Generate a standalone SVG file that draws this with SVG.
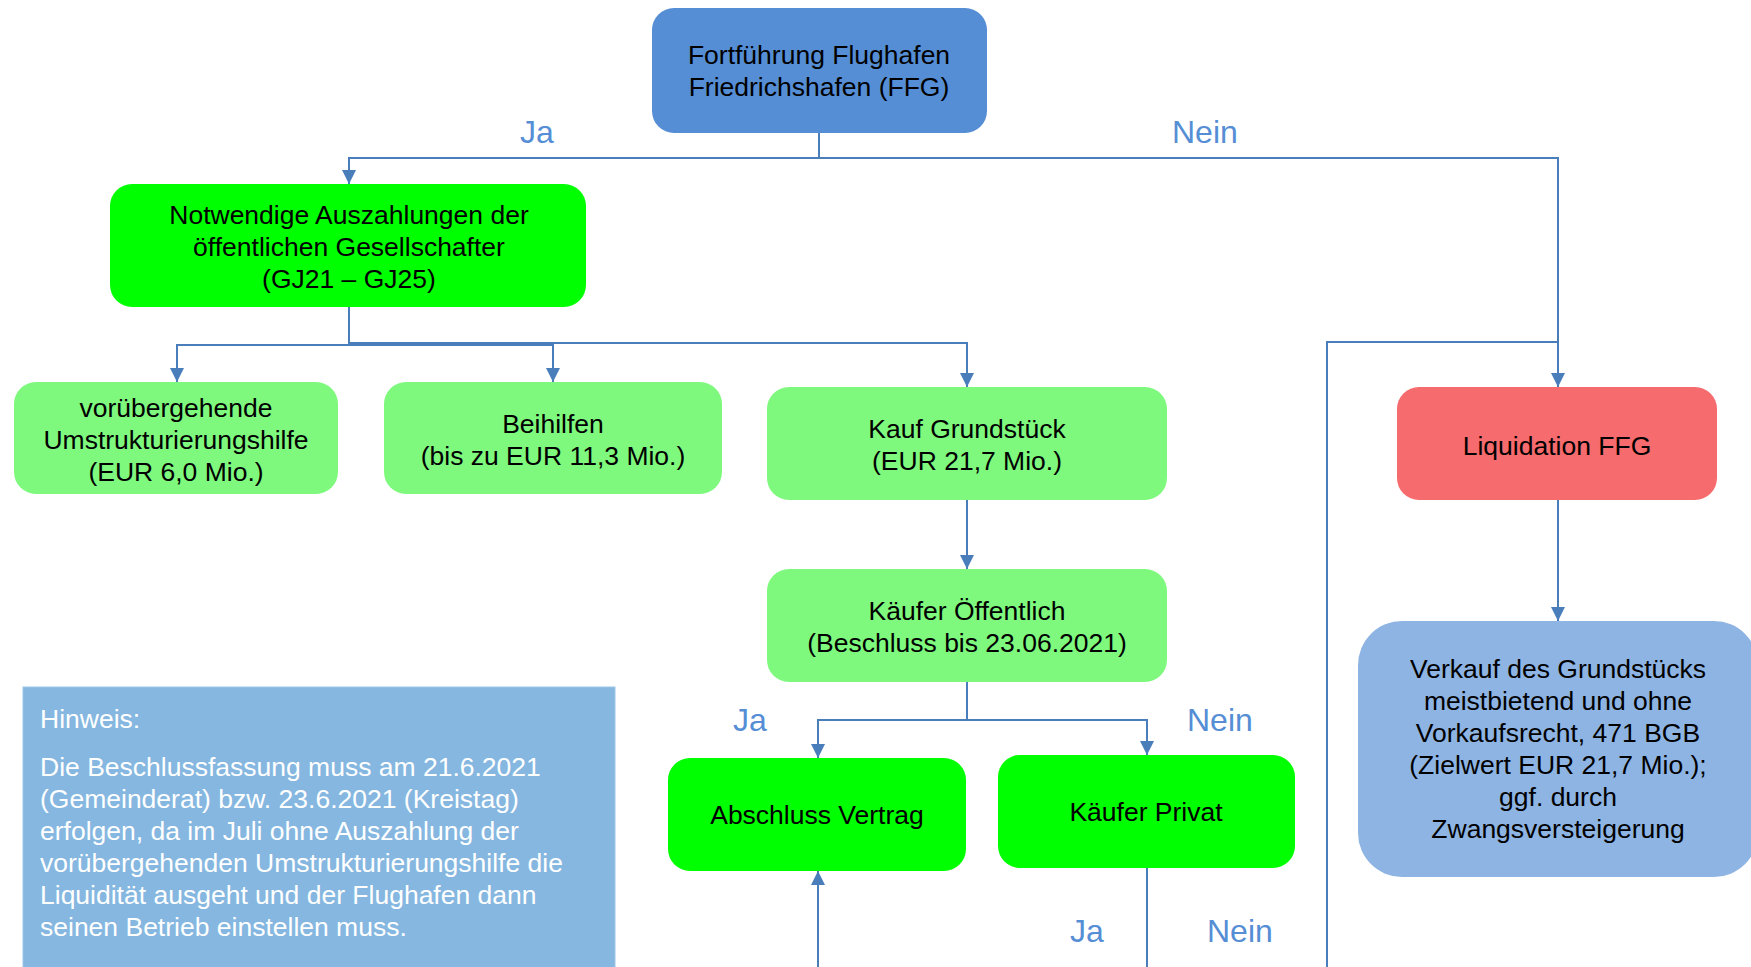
<svg xmlns="http://www.w3.org/2000/svg" width="1751" height="967" viewBox="0 0 1751 967">
<defs>
<marker id="ah" viewBox="0 0 14 14" refX="14" refY="7" markerWidth="14" markerHeight="14" markerUnits="userSpaceOnUse" orient="auto">
<path d="M0,0 L14,7 L0,14 Z" fill="#4A7EBB"/>
</marker>
<style>
.t{font-family:"Liberation Sans",Arial,sans-serif;font-size:26.5px;fill:#000;text-anchor:middle}
.w{font-family:"Liberation Sans",Arial,sans-serif;font-size:26.5px;fill:#fff}
.lb{font-family:"Liberation Sans",Arial,sans-serif;font-size:32px;fill:#558ED5}
.c{fill:none;stroke:#4A7EBB;stroke-width:2}
.g1{fill:#00FF00}
.g2{fill:#7EF97E}
</style>
</defs>
<rect width="1751" height="967" fill="#fff"/>
<g id="connectors">
<path class="c" d="M819,133 V158 H349 V184" marker-end="url(#ah)"/>
<path class="c" d="M819,158 H1558 V387" marker-end="url(#ah)"/>
<path class="c" d="M1327,967 V342 H1558"/>
<path class="c" d="M349,307 V345 H177 V382" marker-end="url(#ah)"/>
<path class="c" d="M349,345 H553 V382" marker-end="url(#ah)"/>
<path class="c" d="M349,343 H967 V387" marker-end="url(#ah)"/>
<path class="c" d="M967,500 V569" marker-end="url(#ah)"/>
<path class="c" d="M967,682 V720 H818 V758" marker-end="url(#ah)"/>
<path class="c" d="M967,720 H1147 V755" marker-end="url(#ah)"/>
<path class="c" d="M818,967 V871" marker-end="url(#ah)"/>
<path class="c" d="M1147,868 V967"/>
<path class="c" d="M1558,500 V621" marker-end="url(#ah)"/>
</g>
<g id="labels">
<text class="lb" x="520" y="143">Ja</text>
<text class="lb" x="1172" y="143">Nein</text>
<text class="lb" x="733" y="731">Ja</text>
<text class="lb" x="1187" y="731">Nein</text>
<text class="lb" x="1070" y="942">Ja</text>
<text class="lb" x="1207" y="942">Nein</text>
</g>
<g id="n-top">
<rect x="652" y="8" width="335" height="125" rx="22" fill="#558ED5"/>
<text class="t" x="819" y="64">Fortführung Flughafen</text>
<text class="t" x="819" y="96">Friedrichshafen (FFG)</text>
</g>
<g id="n-auszahlungen">
<rect class="g1" x="110" y="184" width="476" height="123" rx="22"/>
<text class="t" x="349" y="224">Notwendige Auszahlungen der</text>
<text class="t" x="349" y="256">öffentlichen Gesellschafter</text>
<text class="t" x="349" y="288">(GJ21 – GJ25)</text>
</g>
<g id="n-umstrukturierung">
<rect class="g2" x="14" y="382" width="324" height="112" rx="22"/>
<text class="t" x="176" y="417">vorübergehende</text>
<text class="t" x="176" y="449">Umstrukturierungshilfe</text>
<text class="t" x="176" y="481">(EUR 6,0 Mio.)</text>
</g>
<g id="n-beihilfen">
<rect class="g2" x="384" y="382" width="338" height="112" rx="22"/>
<text class="t" x="553" y="433">Beihilfen</text>
<text class="t" x="553" y="465">(bis zu EUR 11,3 Mio.)</text>
</g>
<g id="n-kauf">
<rect class="g2" x="767" y="387" width="400" height="113" rx="22"/>
<text class="t" x="967" y="438">Kauf Grundstück</text>
<text class="t" x="967" y="470">(EUR 21,7 Mio.)</text>
</g>
<g id="n-oeffentlich">
<rect class="g2" x="767" y="569" width="400" height="113" rx="22"/>
<text class="t" x="967" y="620">Käufer Öffentlich</text>
<text class="t" x="967" y="652">(Beschluss bis 23.06.2021)</text>
</g>
<g id="n-vertrag">
<rect class="g1" x="668" y="758" width="298" height="113" rx="22"/>
<text class="t" x="817" y="824">Abschluss Vertrag</text>
</g>
<g id="n-privat">
<rect class="g1" x="998" y="755" width="297" height="113" rx="22"/>
<text class="t" x="1146" y="821">Käufer Privat</text>
</g>
<g id="n-liquidation">
<rect x="1397" y="387" width="320" height="113" rx="22" fill="#F66B6D"/>
<text class="t" x="1557" y="455">Liquidation FFG</text>
</g>
<g id="n-verkauf">
<rect x="1358" y="621" width="400" height="256" rx="44" fill="#8EB4E3"/>
<text class="t" x="1558" y="678">Verkauf des Grundstücks</text>
<text class="t" x="1558" y="710">meistbietend und ohne</text>
<text class="t" x="1558" y="742">Vorkaufsrecht, 471 BGB</text>
<text class="t" x="1558" y="774">(Zielwert EUR 21,7 Mio.);</text>
<text class="t" x="1558" y="806">ggf. durch</text>
<text class="t" x="1558" y="838">Zwangsversteigerung</text>
</g>
<g id="n-hinweis">
<rect x="23" y="687" width="592" height="290" fill="#85B7E0" stroke="#9FC6E8" stroke-width="1"/>
<text class="w" x="40" y="728">Hinweis:</text>
<text class="w" x="40" y="776">Die Beschlussfassung muss am 21.6.2021</text>
<text class="w" x="40" y="808">(Gemeinderat) bzw. 23.6.2021 (Kreistag)</text>
<text class="w" x="40" y="840">erfolgen, da im Juli ohne Auszahlung der</text>
<text class="w" x="40" y="872">vorübergehenden Umstrukturierungshilfe die</text>
<text class="w" x="40" y="904">Liquidität ausgeht und der Flughafen dann</text>
<text class="w" x="40" y="936">seinen Betrieb einstellen muss.</text>
</g>
</svg>
